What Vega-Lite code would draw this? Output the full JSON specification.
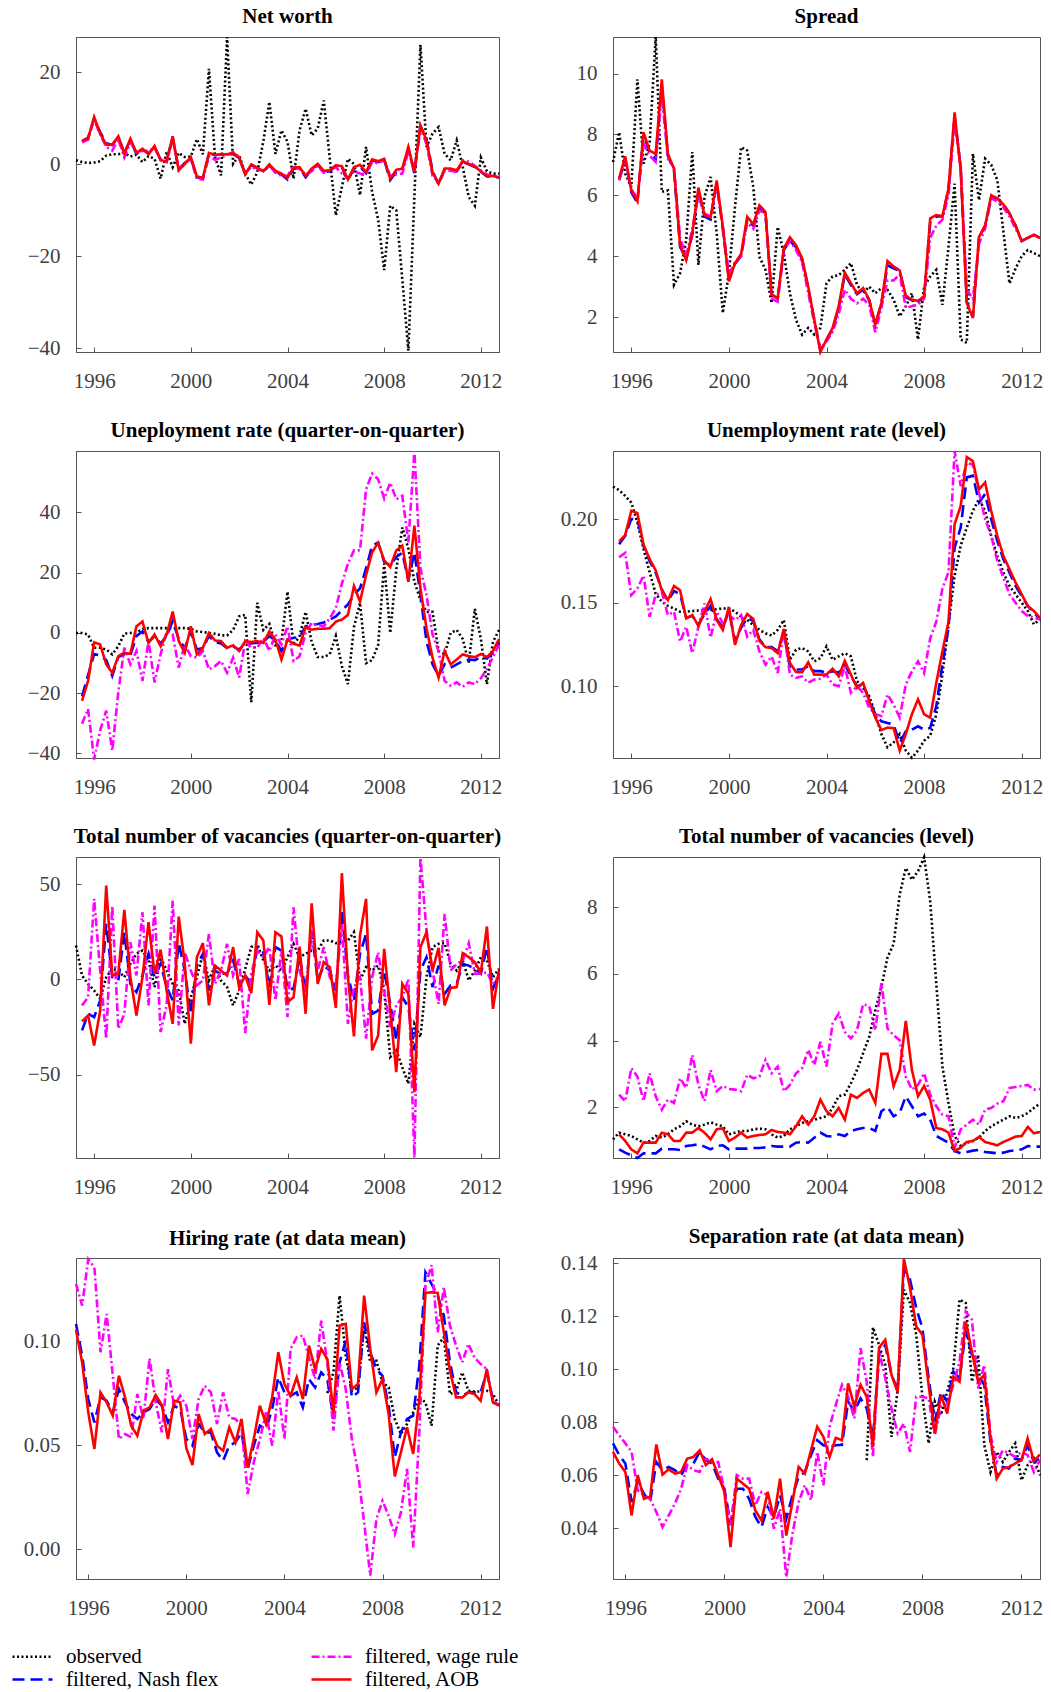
{
  "$schema": "https://vega.github.io/schema/vega-lite/v6.json",
  "background": "white",
  "padding": 5,
  "spacing": 27,
  "config": {
    "view": {"stroke": "#555555", "strokeWidth": 1},
    "axis": {
      "labelFont": "Liberation Serif", "labelFontSize": 21, "labelColor": "#404040",
      "domainColor": "#555555", "tickColor": "#555555", "grid": false, "title": null,
      "tickSize": -5, "labelFlush": false, "labelOverlap": false
    },
    "axisX": {"labelPadding": 23},
    "axisY": {"labelPadding": 21, "minExtent": 70, "maxExtent": 70},
    "title": {"font": "Liberation Serif", "fontSize": 21, "fontWeight": "bold", "color": "black", "frame": "group", "offset": 5},
    "line": {"strokeWidth": 2.6, "clip": true},
    "legend": {
      "orient": "none", "legendX": -55, "legendY": 1608, "columns": 2, "columnPadding": 87, "rowPadding": 1,
      "symbolType": "M-2,0H2", "symbolSize": 400, "symbolStrokeWidth": 3,
      "labelFont": "Liberation Serif", "labelFontSize": 21, "labelColor": "black",
      "labelOffset": 22, "labelLimit": 400, "padding": 0
    }
  },
  "datasets": {
    "p1": [
      {"t":1995.25,"o":0.9},
      {"t":1995.5,"o":0.5,"n":5.0,"w":4.8,"a":5.2},
      {"t":1995.75,"o":0.3,"n":5.8,"w":5.4,"a":5.6},
      {"t":1996,"o":0.4,"n":10.0,"w":9.8,"a":10.3},
      {"t":1996.25,"o":0.7,"n":7.0,"w":6.5,"a":6.7},
      {"t":1996.5,"o":1.9,"n":4.6,"w":3.8,"a":4.3},
      {"t":1996.75,"o":2.2,"n":4.2,"w":3.0,"a":4.3},
      {"t":1997,"o":2.2,"n":5.9,"w":5.5,"a":6.1},
      {"t":1997.25,"o":2.5,"n":2.5,"w":1.5,"a":2.3},
      {"t":1997.5,"o":1.7,"n":5.3,"w":4.8,"a":5.6},
      {"t":1997.75,"o":2.1,"n":2.3,"w":2.8,"a":2.5},
      {"t":1998,"o":0.5,"n":3.2,"w":2.9,"a":3.4},
      {"t":1998.25,"o":1.8,"n":2.4,"w":3.0,"a":2.2},
      {"t":1998.5,"o":1.2,"n":3.8,"w":3.5,"a":4.0},
      {"t":1998.75,"o":-3.1,"n":1.0,"w":1.2,"a":0.9},
      {"t":1999,"o":2.7,"n":0.9,"w":0.5,"a":0.7},
      {"t":1999.25,"o":-0.6,"n":5.8,"w":5.5,"a":6.1},
      {"t":1999.5,"o":2.5,"n":-1.1,"w":-1.0,"a":-1.3},
      {"t":1999.75,"o":1.6,"n":0.3,"w":0.3,"a":0.1},
      {"t":2000,"o":1.7,"n":1.4,"w":1.2,"a":1.6},
      {"t":2000.25,"o":5.5,"n":-2.8,"w":-3.2,"a":-2.6},
      {"t":2000.5,"o":2.2,"n":-3.0,"w":-3.3,"a":-2.9},
      {"t":2000.75,"o":20.8,"n":2.3,"w":1.8,"a":2.5},
      {"t":2001,"o":1.6,"n":2.0,"w":1.0,"a":2.1},
      {"t":2001.25,"o":-2.4,"n":2.2,"w":1.5,"a":2.1},
      {"t":2001.5,"o":27.7,"n":2.0,"w":2.0,"a":2.2},
      {"t":2001.75,"o":0.1,"n":2.3,"w":2.7,"a":2.5},
      {"t":2002,"o":2.0,"n":1.4,"w":1.2,"a":1.6},
      {"t":2002.25,"o":-2.0,"n":-2.0,"w":-2.0,"a":-2.2},
      {"t":2002.5,"o":-4.4,"n":-0.2,"w":-0.5,"a":0},
      {"t":2002.75,"o":-1.7,"n":-0.8,"w":-1.2,"a":-0.7},
      {"t":2003,"o":5,"n":-1.7,"w":-1.3,"a":-1.5},
      {"t":2003.25,"o":13.6,"n":-0.2,"w":-0.3,"a":0},
      {"t":2003.5,"o":2.3,"n":-1.6,"w":-1.8,"a":-1.4},
      {"t":2003.75,"o":7.4,"n":-2.2,"w":-2.5,"a":-2.0},
      {"t":2004,"o":4.9,"n":-3.3,"w":-2.5,"a":-2.9},
      {"t":2004.25,"o":-3.1,"n":-0.9,"w":-0.3,"a":-0.7},
      {"t":2004.5,"o":7.4,"n":-0.8,"w":-1.0,"a":-0.6},
      {"t":2004.75,"o":12.1,"n":-2.8,"w":-2.2,"a":-2.5},
      {"t":2005,"o":6.3,"n":-1.1,"w":-1.5,"a":-0.9},
      {"t":2005.25,"o":7.8,"n":0,"w":-0.3,"a":0.1},
      {"t":2005.5,"o":13.9,"n":-1.7,"w":-1.8,"a":-1.4},
      {"t":2005.75,"o":1.2,"n":-1.5,"w":-1.2,"a":-1.3},
      {"t":2006,"o":-11.1,"n":-0.3,"w":-0.6,"a":-0.2},
      {"t":2006.25,"o":-4.9,"n":-0.6,"w":-2.0,"a":-0.4},
      {"t":2006.5,"o":1.2,"n":-3.5,"w":-3.0,"a":-3.3},
      {"t":2006.75,"o":0.1,"n":-0.9,"w":-1.5,"a":-0.6},
      {"t":2007,"o":-6.7,"n":-0.4,"w":-2.0,"a":-0.1},
      {"t":2007.25,"o":3.8,"n":-1.9,"w":-2.2,"a":-1.7},
      {"t":2007.5,"o":-6,"n":0.9,"w":0.5,"a":1.1},
      {"t":2007.75,"o":-12,"n":0.5,"w":0.2,"a":0.7},
      {"t":2008,"o":-23,"n":1.0,"w":1.0,"a":1.2},
      {"t":2008.25,"o":-9,"n":-3.4,"w":-2.5,"a":-3.1},
      {"t":2008.5,"o":-10,"n":-1.6,"w":-2.2,"a":-1.2},
      {"t":2008.75,"o":-25,"n":-1.1,"w":-2.0,"a":-0.9},
      {"t":2009,"o":-40.5,"n":3.5,"w":2.8,"a":3.8},
      {"t":2009.25,"o":-7,"n":-1.9,"w":-1.2,"a":-1.7},
      {"t":2009.5,"o":26,"n":8.3,"w":7.8,"a":8.5},
      {"t":2009.75,"o":3.8,"n":5.5,"w":4.5,"a":5.2},
      {"t":2010,"o":6.7,"n":-1.4,"w":-2.5,"a":-1.7},
      {"t":2010.25,"o":8.1,"n":-4.4,"w":-3.8,"a":-4.2},
      {"t":2010.5,"o":2.3,"n":-1.1,"w":-1.5,"a":-0.9},
      {"t":2010.75,"o":0.9,"n":-1.1,"w":-1.3,"a":-0.9},
      {"t":2011,"o":5.2,"n":-1.5,"w":-1.8,"a":-1.3},
      {"t":2011.25,"o":-0.6,"n":0.5,"w":0.9,"a":0.7},
      {"t":2011.5,"o":-7.1,"n":0.0,"w":0.6,"a":0.1},
      {"t":2011.75,"o":-9,"n":-0.6,"w":-0.3,"a":-0.5},
      {"t":2012,"o":1.5,"n":-1.6,"w":-1.3,"a":-1.5},
      {"t":2012.25,"o":-1.5,"n":-2.6,"w":-2.2,"a":-2.5},
      {"t":2012.5,"o":-2,"n":-2.6,"w":-2.6,"a":-2.5},
      {"t":2012.75,"o":-2,"n":-2.9,"w":-2.6,"a":-2.8}
    ],
    "p2": [
      {"t":1995.25,"o":7.09},
      {"t":1995.5,"o":8.07,"n":6.5,"w":6.5,"a":6.55},
      {"t":1995.75,"o":6.71,"n":7.2,"w":7.1,"a":7.28},
      {"t":1996,"o":6.27,"n":6.1,"w":6.2,"a":6.16},
      {"t":1996.25,"o":9.81,"n":5.75,"w":5.9,"a":5.8},
      {"t":1996.5,"o":7.04,"n":8.0,"w":7.7,"a":8.07},
      {"t":1996.75,"o":7.69,"n":7.4,"w":7.3,"a":7.47},
      {"t":1997,"o":11.2,"n":7.2,"w":7.1,"a":7.36},
      {"t":1997.25,"o":6.11,"n":9.6,"w":9.3,"a":9.81},
      {"t":1997.5,"o":6.16,"n":7.3,"w":7.2,"a":7.36},
      {"t":1997.75,"o":3.06,"n":6.8,"w":6.9,"a":6.87},
      {"t":1998,"o":3.44,"n":4.3,"w":4.6,"a":4.36},
      {"t":1998.25,"o":4.53,"n":3.9,"w":4.0,"a":3.87},
      {"t":1998.5,"o":7.42,"n":4.7,"w":4.9,"a":4.75},
      {"t":1998.75,"o":3.71,"n":6.1,"w":6.0,"a":6.25},
      {"t":1999,"o":5.95,"n":5.3,"w":5.4,"a":5.35},
      {"t":1999.25,"o":6.6,"n":5.2,"w":5.3,"a":5.27},
      {"t":1999.5,"o":4.75,"n":6.4,"w":6.3,"a":6.49},
      {"t":1999.75,"o":2.13,"n":4.9,"w":5.0,"a":4.96},
      {"t":2000,"o":3.44,"n":3.2,"w":3.4,"a":3.17},
      {"t":2000.25,"o":5.62,"n":3.75,"w":3.8,"a":3.77},
      {"t":2000.5,"o":7.58,"n":4.0,"w":4.0,"a":4.07},
      {"t":2000.75,"o":7.47,"n":5.2,"w":5.1,"a":5.29},
      {"t":2001,"o":6.27,"n":5.0,"w":4.9,"a":5.05},
      {"t":2001.25,"o":3.98,"n":5.6,"w":5.5,"a":5.67},
      {"t":2001.5,"o":3.55,"n":5.4,"w":5.4,"a":5.45},
      {"t":2001.75,"o":2.46,"n":2.75,"w":2.6,"a":2.73},
      {"t":2002,"o":4.96,"n":2.6,"w":2.5,"a":2.62},
      {"t":2002.25,"o":4.09,"n":4.2,"w":4.2,"a":4.26},
      {"t":2002.5,"o":2.78,"n":4.5,"w":4.5,"a":4.62},
      {"t":2002.75,"o":1.91,"n":4.3,"w":4.2,"a":4.36},
      {"t":2003,"o":1.42,"n":3.9,"w":3.8,"a":3.93},
      {"t":2003.25,"o":1.64,"n":2.95,"w":2.8,"a":3.0},
      {"t":2003.5,"o":1.42,"n":1.9,"w":1.8,"a":1.91},
      {"t":2003.75,"o":1.64,"n":0.9,"w":0.95,"a":0.85},
      {"t":2004,"o":3.11,"n":1.25,"w":1.2,"a":1.26},
      {"t":2004.25,"o":3.33,"n":1.6,"w":1.5,"a":1.64},
      {"t":2004.5,"o":3.38,"n":2.3,"w":2.1,"a":2.35},
      {"t":2004.75,"o":3.55,"n":3.4,"w":2.9,"a":3.46},
      {"t":2005,"o":3.77,"n":3.05,"w":2.6,"a":3.11},
      {"t":2005.25,"o":3.06,"n":2.75,"w":2.45,"a":2.78},
      {"t":2005.5,"o":2.78,"n":2.9,"w":2.6,"a":2.95},
      {"t":2005.75,"o":3.0,"n":2.55,"w":2.4,"a":2.57},
      {"t":2006,"o":2.78,"n":1.75,"w":1.5,"a":1.75},
      {"t":2006.25,"o":2.95,"n":2.45,"w":2.3,"a":2.46},
      {"t":2006.5,"o":2.89,"n":3.7,"w":3.2,"a":3.84},
      {"t":2006.75,"o":2.57,"n":3.6,"w":3.2,"a":3.66},
      {"t":2007,"o":2.02,"n":3.5,"w":3.4,"a":3.53},
      {"t":2007.25,"o":2.35,"n":2.65,"w":2.3,"a":2.7},
      {"t":2007.5,"o":2.78,"n":2.55,"w":2.35,"a":2.57},
      {"t":2007.75,"o":1.26,"n":2.5,"w":2.4,"a":2.53},
      {"t":2008,"o":3.0,"n":2.65,"w":2.6,"a":2.68},
      {"t":2008.25,"o":3.33,"n":5.1,"w":4.6,"a":5.24},
      {"t":2008.5,"o":3.55,"n":5.3,"w":5.0,"a":5.35},
      {"t":2008.75,"o":2.4,"n":5.3,"w":5.2,"a":5.31},
      {"t":2009,"o":4.31,"n":6.2,"w":6.0,"a":6.22},
      {"t":2009.25,"o":6.38,"n":8.6,"w":8.4,"a":8.72},
      {"t":2009.5,"o":1.26,"n":6.9,"w":7.0,"a":6.82},
      {"t":2009.75,"o":1.15,"n":2.5,"w":2.9,"a":2.46},
      {"t":2010,"o":7.36,"n":2.0,"w":2.6,"a":1.97},
      {"t":2010.25,"o":5.84,"n":4.6,"w":4.4,"a":4.64},
      {"t":2010.5,"o":7.2,"n":5.0,"w":4.9,"a":5.0},
      {"t":2010.75,"o":7.0,"n":5.9,"w":5.9,"a":6.0},
      {"t":2011,"o":6.5,"n":5.9,"w":5.8,"a":5.9},
      {"t":2011.25,"o":4.8,"n":5.7,"w":5.6,"a":5.7},
      {"t":2011.5,"o":3.1,"n":5.4,"w":5.3,"a":5.4},
      {"t":2011.75,"o":3.6,"n":5.0,"w":4.9,"a":5.0},
      {"t":2012,"o":4.0,"n":4.5,"w":4.5,"a":4.5},
      {"t":2012.25,"o":4.2,"n":4.6,"w":4.6,"a":4.6},
      {"t":2012.5,"o":4.1,"n":4.7,"w":4.7,"a":4.7},
      {"t":2012.75,"o":4.0,"n":4.6,"w":4.6,"a":4.6}
    ],
    "p3": [
      {"t":1995.25,"o":0},
      {"t":1995.5,"o":0,"n":-21,"w":-30.1,"a":-22.5},
      {"t":1995.75,"o":-0.5,"n":-14,"w":-25.2,"a":-15.9},
      {"t":1996,"o":-4.9,"n":-7,"w":-42,"a":-3.1},
      {"t":1996.25,"o":-4.9,"n":-7.5,"w":-32.3,"a":-3.8},
      {"t":1996.5,"o":-5.5,"n":-9,"w":-25.8,"a":-10.4},
      {"t":1996.75,"o":-7.1,"n":-14.2,"w":-39,"a":-13.2},
      {"t":1997,"o":-4.4,"n":-8,"w":-19.7,"a":-7.7},
      {"t":1997.25,"o":-0.2,"n":-7,"w":-4.9,"a":-6.6},
      {"t":1997.5,"o":0,"n":-7.5,"w":-10.4,"a":-6.9},
      {"t":1997.75,"o":0.2,"n":-1,"w":-6.0,"a":2.2},
      {"t":1998,"o":1.3,"n":0.5,"w":-15.9,"a":3.8},
      {"t":1998.25,"o":1.6,"n":-3,"w":-2.7,"a":-3.3},
      {"t":1998.5,"o":1.6,"n":-1,"w":-16.4,"a":-0.5},
      {"t":1998.75,"o":1.6,"n":-3.5,"w":-7.1,"a":-4.4},
      {"t":1999,"o":1.6,"n":-1,"w":0.5,"a":-0.5},
      {"t":1999.25,"o":1.6,"n":4,"w":-0.5,"a":7.1},
      {"t":1999.5,"o":1.6,"n":-2,"w":-11.5,"a":-2.7},
      {"t":1999.75,"o":1.6,"n":-5,"w":-3.8,"a":-6.6},
      {"t":2000,"o":1.4,"n":0.5,"w":-7.7,"a":2.2},
      {"t":2000.25,"o":0.5,"n":-5.5,"w":-8.2,"a":-7.1},
      {"t":2000.5,"o":0.3,"n":-5,"w":-6.0,"a":-4.9},
      {"t":2000.75,"o":0,"n":-1,"w":-12.1,"a":0},
      {"t":2001,"o":-0.3,"n":-3,"w":-11.0,"a":-2.5},
      {"t":2001.25,"o":-0.8,"n":-3.5,"w":-9.3,"a":-2.7},
      {"t":2001.5,"o":-0.8,"n":-5,"w":-13.2,"a":-4.9},
      {"t":2001.75,"o":1,"n":-4.5,"w":-8.2,"a":-4.1},
      {"t":2002,"o":5.5,"n":-5.5,"w":-14.8,"a":-6.0},
      {"t":2002.25,"o":6,"n":-3.5,"w":-2.7,"a":-2.7},
      {"t":2002.5,"o":-23,"n":-3.5,"w":-4.9,"a":-3.0},
      {"t":2002.75,"o":10,"n":-3.2,"w":-4.9,"a":-2.7},
      {"t":2003,"o":1,"n":-3,"w":-1.6,"a":-3.3},
      {"t":2003.25,"o":3,"n":-1,"w":-6.0,"a":0.5},
      {"t":2003.5,"o":-4,"n":-2.5,"w":-0.5,"a":-2.2},
      {"t":2003.75,"o":-3,"n":-6,"w":-3.8,"a":-8.8},
      {"t":2004,"o":13.7,"n":-2.2,"w":2.2,"a":-2.2},
      {"t":2004.25,"o":-4,"n":-1.6,"w":-9.3,"a":-3.6},
      {"t":2004.5,"o":-1,"n":-1.4,"w":-7.7,"a":-4.2},
      {"t":2004.75,"o":7,"n":2.2,"w":0,"a":1.9},
      {"t":2005,"o":-3,"n":2.7,"w":3.3,"a":1.1},
      {"t":2005.25,"o":-8,"n":3.0,"w":2.7,"a":1.4},
      {"t":2005.5,"o":-8,"n":3.5,"w":2.2,"a":1.4},
      {"t":2005.75,"o":-7,"n":4.4,"w":4.9,"a":1.6},
      {"t":2006,"o":-1,"n":5.5,"w":8.2,"a":3.8},
      {"t":2006.25,"o":-11,"n":7.5,"w":16.4,"a":4.4},
      {"t":2006.5,"o":-17,"n":9.5,"w":23.0,"a":6.0},
      {"t":2006.75,"o":2,"n":12.6,"w":27.4,"a":15.6},
      {"t":2007,"o":10,"n":14.8,"w":27.4,"a":10.4},
      {"t":2007.25,"o":-10,"n":21.4,"w":47.7,"a":19.2},
      {"t":2007.5,"o":-9,"n":29,"w":52.9,"a":26.8},
      {"t":2007.75,"o":-4,"n":30,"w":51.0,"a":29.9},
      {"t":2008,"o":23,"n":23.6,"w":44.6,"a":24.1},
      {"t":2008.25,"o":0,"n":22.5,"w":49.9,"a":21.9},
      {"t":2008.5,"o":21,"n":25.2,"w":44.4,"a":27.4},
      {"t":2008.75,"o":35,"n":26.6,"w":45.5,"a":29.0},
      {"t":2009,"o":28,"n":17.5,"w":30.1,"a":17.0},
      {"t":2009.25,"o":17,"n":26.8,"w":60.4,"a":35.6},
      {"t":2009.5,"o":11,"n":12.6,"w":21.4,"a":14.8},
      {"t":2009.75,"o":7,"n":-2.7,"w":12.6,"a":1.6},
      {"t":2010,"o":7,"n":-10.4,"w":-0.5,"a":-8.2},
      {"t":2010.25,"o":-6,"n":-14.2,"w":-6.0,"a":-14.8},
      {"t":2010.5,"o":-7,"n":-10.4,"w":-15.9,"a":-6.0},
      {"t":2010.75,"o":0,"n":-11.5,"w":-17.5,"a":-10.4},
      {"t":2011,"o":1,"n":-10.4,"w":-16.4,"a":-8.8},
      {"t":2011.25,"o":-2,"n":-9.3,"w":-17.9,"a":-7.1},
      {"t":2011.5,"o":-10,"n":-8.8,"w":-16.4,"a":-7.7},
      {"t":2011.75,"o":8,"n":-9,"w":-17,"a":-8},
      {"t":2012,"o":-2,"n":-8,"w":-15,"a":-7},
      {"t":2012.25,"o":-17,"n":-8.5,"w":-12,"a":-8},
      {"t":2012.5,"o":-3,"n":-6.5,"w":-8,"a":-6},
      {"t":2012.75,"o":1,"n":-3,"w":-4,"a":-2}
    ],
    "p4": [
      {"t":1995.25,"o":0.2194},
      {"t":1995.5,"o":0.2174,"n":0.185,"w":0.1772,"a":0.1865},
      {"t":1995.75,"o":0.2139,"n":0.19,"w":0.1798,"a":0.1905},
      {"t":1996,"o":0.2099,"n":0.2,"w":0.1545,"a":0.205},
      {"t":1996.25,"o":0.198,"n":0.2,"w":0.1584,"a":0.2036},
      {"t":1996.5,"o":0.1822,"n":0.184,"w":0.1663,"a":0.1848},
      {"t":1996.75,"o":0.1683,"n":0.175,"w":0.1416,"a":0.1762},
      {"t":1997,"o":0.1554,"n":0.168,"w":0.1545,"a":0.1693},
      {"t":1997.25,"o":0.1505,"n":0.158,"w":0.1564,"a":0.1574},
      {"t":1997.5,"o":0.1481,"n":0.151,"w":0.1426,"a":0.1515},
      {"t":1997.75,"o":0.1465,"n":0.157,"w":0.1446,"a":0.16},
      {"t":1998,"o":0.1446,"n":0.155,"w":0.1267,"a":0.1574},
      {"t":1998.25,"o":0.1446,"n":0.141,"w":0.1356,"a":0.1406},
      {"t":1998.5,"o":0.145,"n":0.142,"w":0.1198,"a":0.1426},
      {"t":1998.75,"o":0.1453,"n":0.137,"w":0.1356,"a":0.136},
      {"t":1999,"o":0.1455,"n":0.143,"w":0.1495,"a":0.1446},
      {"t":1999.25,"o":0.1457,"n":0.148,"w":0.1291,"a":0.1521},
      {"t":1999.5,"o":0.1461,"n":0.14,"w":0.1446,"a":0.1396},
      {"t":1999.75,"o":0.1465,"n":0.135,"w":0.1376,"a":0.1337},
      {"t":2000,"o":0.1465,"n":0.145,"w":0.1426,"a":0.1475},
      {"t":2000.25,"o":0.1446,"n":0.127,"w":0.1396,"a":0.1248},
      {"t":2000.5,"o":0.1416,"n":0.135,"w":0.1426,"a":0.1366},
      {"t":2000.75,"o":0.1396,"n":0.141,"w":0.1297,"a":0.1432},
      {"t":2001,"o":0.1366,"n":0.139,"w":0.1337,"a":0.1402},
      {"t":2001.25,"o":0.1337,"n":0.128,"w":0.1208,"a":0.1271},
      {"t":2001.5,"o":0.1317,"n":0.1235,"w":0.1129,"a":0.1234},
      {"t":2001.75,"o":0.1303,"n":0.1235,"w":0.1178,"a":0.1228},
      {"t":2002,"o":0.1337,"n":0.121,"w":0.1079,"a":0.1198},
      {"t":2002.25,"o":0.1396,"n":0.132,"w":0.1337,"a":0.1343},
      {"t":2002.5,"o":0.1158,"n":0.112,"w":0.1069,"a":0.1139},
      {"t":2002.75,"o":0.1218,"n":0.11,"w":0.105,"a":0.1085},
      {"t":2003,"o":0.1228,"n":0.11,"w":0.1059,"a":0.1083},
      {"t":2003.25,"o":0.1208,"n":0.112,"w":0.102,"a":0.1143},
      {"t":2003.5,"o":0.1149,"n":0.109,"w":0.104,"a":0.1069},
      {"t":2003.75,"o":0.1168,"n":0.109,"w":0.1044,"a":0.1069},
      {"t":2004,"o":0.1238,"n":0.108,"w":0.1069,"a":0.107},
      {"t":2004.25,"o":0.1158,"n":0.109,"w":0.101,"a":0.1105},
      {"t":2004.5,"o":0.1178,"n":0.108,"w":0.1,"a":0.1059},
      {"t":2004.75,"o":0.1198,"n":0.113,"w":0.1119,"a":0.1152},
      {"t":2005,"o":0.1178,"n":0.106,"w":0.096,"a":0.1069},
      {"t":2005.25,"o":0.103,"n":0.1,"w":0.1,"a":0.099},
      {"t":2005.5,"o":0.099,"n":0.101,"w":0.096,"a":0.102},
      {"t":2005.75,"o":0.094,"n":0.092,"w":0.0871,"a":0.0911},
      {"t":2006,"o":0.0832,"n":0.083,"w":0.0832,"a":0.0812},
      {"t":2006.25,"o":0.0713,"n":0.079,"w":0.0822,"a":0.0737},
      {"t":2006.5,"o":0.0634,"n":0.078,"w":0.095,"a":0.0752},
      {"t":2006.75,"o":0.0663,"n":0.077,"w":0.0889,"a":0.0749},
      {"t":2007,"o":0.0713,"n":0.066,"w":0.0812,"a":0.0614},
      {"t":2007.25,"o":0.0614,"n":0.073,"w":0.101,"a":0.0713},
      {"t":2007.5,"o":0.0572,"n":0.074,"w":0.1089,"a":0.0832},
      {"t":2007.75,"o":0.0614,"n":0.076,"w":0.1149,"a":0.0921},
      {"t":2008,"o":0.0673,"n":0.074,"w":0.1079,"a":0.0832},
      {"t":2008.25,"o":0.0703,"n":0.075,"w":0.1287,"a":0.0812},
      {"t":2008.5,"o":0.0832,"n":0.088,"w":0.1386,"a":0.102},
      {"t":2008.75,"o":0.1069,"n":0.113,"w":0.1584,"a":0.1208},
      {"t":2009,"o":0.1366,"n":0.135,"w":0.1683,"a":0.1386},
      {"t":2009.25,"o":0.1663,"n":0.183,"w":0.2408,"a":0.197},
      {"t":2009.5,"o":0.1842,"n":0.195,"w":0.2198,"a":0.2079},
      {"t":2009.75,"o":0.195,"n":0.225,"w":0.2337,"a":0.2372},
      {"t":2010,"o":0.205,"n":0.226,"w":0.2327,"a":0.2347},
      {"t":2010.25,"o":0.212,"n":0.21,"w":0.2158,"a":0.2178},
      {"t":2010.5,"o":0.205,"n":0.215,"w":0.2,"a":0.222},
      {"t":2010.75,"o":0.19,"n":0.2,"w":0.19,"a":0.205},
      {"t":2011,"o":0.178,"n":0.187,"w":0.175,"a":0.19},
      {"t":2011.25,"o":0.168,"n":0.176,"w":0.165,"a":0.178},
      {"t":2011.5,"o":0.16,"n":0.168,"w":0.155,"a":0.17},
      {"t":2011.75,"o":0.155,"n":0.16,"w":0.15,"a":0.162},
      {"t":2012,"o":0.15,"n":0.154,"w":0.145,"a":0.155},
      {"t":2012.25,"o":0.145,"n":0.148,"w":0.142,"a":0.148},
      {"t":2012.5,"o":0.137,"n":0.144,"w":0.141,"a":0.145},
      {"t":2012.75,"o":0.14,"n":0.14,"w":0.14,"a":0.141}
    ],
    "p5": [
      {"t":1995.25,"o":17.8},
      {"t":1995.5,"o":2.1,"n":-26.7,"w":-13.6,"a":-22},
      {"t":1995.75,"o":-2.3,"n":-18,"w":-9.3,"a":-18.9},
      {"t":1996,"o":-5.8,"n":-19.8,"w":42.3,"a":-34.6},
      {"t":1996.25,"o":-10.1,"n":-11,"w":4.7,"a":-16.3},
      {"t":1996.5,"o":1.2,"n":29.2,"w":-31.1,"a":49.3},
      {"t":1996.75,"o":5.6,"n":1.2,"w":38.8,"a":2.1},
      {"t":1997,"o":4.7,"n":-0.5,"w":-25.9,"a":3.0},
      {"t":1997.25,"o":1.2,"n":24.8,"w":-18,"a":36.5},
      {"t":1997.5,"o":8.2,"n":-2.3,"w":19.6,"a":1.2},
      {"t":1997.75,"o":13.5,"n":-6.6,"w":2.1,"a":-18.9},
      {"t":1998,"o":15.2,"n":2.1,"w":35.3,"a":1.2},
      {"t":1998.25,"o":10,"n":13.5,"w":-13.6,"a":30.1},
      {"t":1998.5,"o":-4,"n":1.2,"w":38.8,"a":3.0},
      {"t":1998.75,"o":11.7,"n":8.2,"w":-27.6,"a":15.6},
      {"t":1999,"o":4.7,"n":-4.0,"w":-13.6,"a":-5.8},
      {"t":1999.25,"o":-2.3,"n":-11,"w":41.4,"a":-23.3},
      {"t":1999.5,"o":-5.8,"n":19.1,"w":-24.1,"a":33.0},
      {"t":1999.75,"o":-23.3,"n":4.7,"w":14.3,"a":8.2},
      {"t":2000,"o":-9.3,"n":-18,"w":4.7,"a":-33.7},
      {"t":2000.25,"o":1.2,"n":7.3,"w":-3.1,"a":11.7},
      {"t":2000.5,"o":13.5,"n":13.5,"w":-0.5,"a":19.1},
      {"t":2000.75,"o":-0.5,"n":-5.8,"w":24,"a":-13.6},
      {"t":2001,"o":7.3,"n":4.7,"w":-2.3,"a":7.3},
      {"t":2001.25,"o":-0.5,"n":3.0,"w":4.7,"a":4.7},
      {"t":2001.5,"o":-4,"n":3.0,"w":18.7,"a":2.1},
      {"t":2001.75,"o":-13.6,"n":10,"w":2.1,"a":17.0},
      {"t":2002,"o":-5.8,"n":-2.3,"w":10.8,"a":-4.4},
      {"t":2002.25,"o":5.6,"n":2.1,"w":-28.1,"a":2.1},
      {"t":2002.5,"o":17,"n":-2.3,"w":3,"a":-7.2},
      {"t":2002.75,"o":18.7,"n":17,"w":15.2,"a":24.8},
      {"t":2003,"o":10,"n":14.3,"w":11.7,"a":20.5},
      {"t":2003.25,"o":4.7,"n":-4,"w":17,"a":-13.3},
      {"t":2003.5,"o":7.3,"n":17,"w":-11,"a":24.8},
      {"t":2003.75,"o":4.7,"n":15.2,"w":15.2,"a":22.6},
      {"t":2004,"o":11.7,"n":-4.9,"w":-19.8,"a":-11.9},
      {"t":2004.25,"o":18.7,"n":-4.9,"w":37.9,"a":-9.3},
      {"t":2004.5,"o":11.7,"n":11.7,"w":4.7,"a":17.3},
      {"t":2004.75,"o":13.5,"n":-5.8,"w":-6.6,"a":-18.0},
      {"t":2005,"o":15.2,"n":25.7,"w":25.7,"a":40.0},
      {"t":2005.25,"o":15.2,"n":-0.5,"w":4.7,"a":-2.3},
      {"t":2005.5,"o":20.5,"n":7.3,"w":17,"a":9.1},
      {"t":2005.75,"o":20.5,"n":4.7,"w":1.2,"a":6.5},
      {"t":2006,"o":19.1,"n":-5.8,"w":-4,"a":-14.9},
      {"t":2006.25,"o":19.6,"n":36.2,"w":29.2,"a":55.8},
      {"t":2006.5,"o":20.5,"n":2.1,"w":-23.3,"a":1.2},
      {"t":2006.75,"o":24.8,"n":-11,"w":-4,"a":-29.9},
      {"t":2007,"o":-0.5,"n":13.5,"w":1.2,"a":23.1},
      {"t":2007.25,"o":6.5,"n":24,"w":-31.1,"a":42.3},
      {"t":2007.5,"o":4.7,"n":-18,"w":1.2,"a":-37.2},
      {"t":2007.75,"o":7.3,"n":-16.3,"w":14.3,"a":-29.4},
      {"t":2008,"o":-5.8,"n":4.7,"w":-5.8,"a":16.1},
      {"t":2008.25,"o":-40.7,"n":-12.8,"w":-25,"a":-16.3},
      {"t":2008.5,"o":-37.2,"n":-32,"w":-13.6,"a":-48.6},
      {"t":2008.75,"o":-46.1,"n":-9.3,"w":-9.3,"a":-2.3},
      {"t":2009,"o":-54.7,"n":-14.5,"w":0.3,"a":-7.5},
      {"t":2009.25,"o":-23.3,"n":-37.2,"w":-93.5,"a":-59.1},
      {"t":2009.5,"o":-30.2,"n":4.7,"w":64,"a":17.0},
      {"t":2009.75,"o":1.2,"n":11.7,"w":25.7,"a":24.8},
      {"t":2010,"o":17,"n":-4,"w":4.7,"a":4.7},
      {"t":2010.25,"o":18.7,"n":7.3,"w":-12.8,"a":16.6},
      {"t":2010.5,"o":19.1,"n":-7.5,"w":34.4,"a":-13.6},
      {"t":2010.75,"o":8.2,"n":-3.1,"w":4.7,"a":-4.4},
      {"t":2011,"o":4.7,"n":-2.3,"w":8.2,"a":-4.0},
      {"t":2011.25,"o":10,"n":8.2,"w":10,"a":13.8},
      {"t":2011.5,"o":-0.5,"n":7.3,"w":19.1,"a":11.7},
      {"t":2011.75,"o":4.7,"n":5.6,"w":3.0,"a":9.1},
      {"t":2012,"o":11.7,"n":3.0,"w":3.0,"a":3.8},
      {"t":2012.25,"o":10,"n":17,"w":3.8,"a":27.8},
      {"t":2012.5,"o":1.2,"n":-4.9,"w":-2.3,"a":-15.4},
      {"t":2012.75,"o":5.6,"n":3,"w":2.1,"a":5.1}
    ],
    "p6": [
      {"t":1995.25,"o":1.04},
      {"t":1995.5,"o":1.24,"n":0.74,"w":2.38,"a":1.19},
      {"t":1995.75,"o":1.19,"n":0.64,"w":2.18,"a":0.99},
      {"t":1996,"o":1.14,"n":0.56,"w":3.17,"a":0.74},
      {"t":1996.25,"o":1.04,"n":0.48,"w":2.92,"a":0.62},
      {"t":1996.5,"o":0.94,"n":0.62,"w":2.18,"a":0.94},
      {"t":1996.75,"o":0.99,"n":0.62,"w":3.02,"a":0.94},
      {"t":1997,"o":1.14,"n":0.62,"w":2.33,"a":0.94},
      {"t":1997.25,"o":1.09,"n":0.76,"w":1.93,"a":1.24},
      {"t":1997.5,"o":1.19,"n":0.74,"w":2.23,"a":1.19},
      {"t":1997.75,"o":1.34,"n":0.74,"w":2.13,"a":0.99},
      {"t":1998,"o":1.43,"n":0.72,"w":2.87,"a":0.99},
      {"t":1998.25,"o":1.58,"n":0.84,"w":2.58,"a":1.24},
      {"t":1998.5,"o":1.48,"n":0.86,"w":3.57,"a":1.24},
      {"t":1998.75,"o":1.43,"n":0.89,"w":2.67,"a":1.38},
      {"t":1999,"o":1.48,"n":0.82,"w":2.18,"a":1.24},
      {"t":1999.25,"o":1.55,"n":0.74,"w":3.12,"a":1.04},
      {"t":1999.5,"o":1.48,"n":0.84,"w":2.48,"a":1.34},
      {"t":1999.75,"o":1.43,"n":0.86,"w":2.64,"a":1.37},
      {"t":2000,"o":1.19,"n":0.74,"w":2.55,"a":0.99},
      {"t":2000.25,"o":1.24,"n":0.76,"w":2.53,"a":1.09},
      {"t":2000.5,"o":1.29,"n":0.76,"w":2.48,"a":1.24},
      {"t":2000.75,"o":1.29,"n":0.76,"w":2.97,"a":1.09},
      {"t":2001,"o":1.34,"n":0.78,"w":2.87,"a":1.14},
      {"t":2001.25,"o":1.36,"n":0.78,"w":2.92,"a":1.17},
      {"t":2001.5,"o":1.34,"n":0.8,"w":3.42,"a":1.19},
      {"t":2001.75,"o":1.19,"n":0.84,"w":3.02,"a":1.32},
      {"t":2002,"o":1.09,"n":0.82,"w":3.22,"a":1.26},
      {"t":2002.25,"o":1.14,"n":0.82,"w":2.48,"a":1.24},
      {"t":2002.5,"o":1.34,"n":0.82,"w":2.67,"a":1.19},
      {"t":2002.75,"o":1.43,"n":0.94,"w":3.02,"a":1.43},
      {"t":2003,"o":1.53,"n":0.96,"w":3.17,"a":1.73},
      {"t":2003.25,"o":1.58,"n":0.94,"w":3.72,"a":1.48},
      {"t":2003.5,"o":1.63,"n":1.09,"w":3.27,"a":1.73},
      {"t":2003.75,"o":1.68,"n":1.24,"w":3.96,"a":2.23},
      {"t":2004,"o":1.73,"n":1.14,"w":3.22,"a":1.88},
      {"t":2004.25,"o":1.98,"n":1.12,"w":4.51,"a":1.73},
      {"t":2004.5,"o":2.33,"n":1.19,"w":4.81,"a":1.98},
      {"t":2004.75,"o":2.38,"n":1.14,"w":4.26,"a":1.63},
      {"t":2005,"o":2.72,"n":1.29,"w":4.06,"a":2.38},
      {"t":2005.25,"o":3.12,"n":1.34,"w":4.31,"a":2.28},
      {"t":2005.5,"o":3.62,"n":1.38,"w":5.09,"a":2.43},
      {"t":2005.75,"o":4.11,"n":1.38,"w":5.03,"a":2.53},
      {"t":2006,"o":4.91,"n":1.29,"w":4.31,"a":2.13},
      {"t":2006.25,"o":5.6,"n":1.88,"w":5.72,"a":3.6},
      {"t":2006.5,"o":6.49,"n":2.01,"w":4.36,"a":3.6},
      {"t":2006.75,"o":6.89,"n":1.73,"w":4.16,"a":2.63},
      {"t":2007,"o":8.38,"n":1.83,"w":4.01,"a":3.12},
      {"t":2007.25,"o":9.17,"n":2.33,"w":2.92,"a":4.59},
      {"t":2007.5,"o":8.82,"n":2.03,"w":2.53,"a":3.12},
      {"t":2007.75,"o":9.07,"n":1.73,"w":2.67,"a":2.33},
      {"t":2008,"o":9.49,"n":1.81,"w":3.02,"a":2.64},
      {"t":2008.25,"o":8.18,"n":1.63,"w":2.38,"a":2.23},
      {"t":2008.5,"o":5.7,"n":1.14,"w":2.03,"a":1.38},
      {"t":2008.75,"o":3.22,"n":1.04,"w":1.78,"a":1.34},
      {"t":2009,"o":2.13,"n":0.94,"w":1.73,"a":1.24},
      {"t":2009.25,"o":1.14,"n":0.69,"w":0.79,"a":0.69},
      {"t":2009.5,"o":0.84,"n":0.62,"w":1.34,"a":0.79},
      {"t":2009.75,"o":0.94,"n":0.66,"w":1.48,"a":0.96},
      {"t":2010,"o":0.99,"n":0.7,"w":1.63,"a":0.99},
      {"t":2010.25,"o":1.09,"n":0.72,"w":1.48,"a":1.11},
      {"t":2010.5,"o":1.29,"n":0.66,"w":1.93,"a":0.96},
      {"t":2010.75,"o":1.43,"n":0.64,"w":1.98,"a":0.91},
      {"t":2011,"o":1.53,"n":0.62,"w":2.11,"a":0.86},
      {"t":2011.25,"o":1.63,"n":0.64,"w":2.18,"a":0.96},
      {"t":2011.5,"o":1.73,"n":0.69,"w":2.58,"a":1.04},
      {"t":2011.75,"o":1.68,"n":0.71,"w":2.61,"a":1.12},
      {"t":2012,"o":1.73,"n":0.74,"w":2.64,"a":1.14},
      {"t":2012.25,"o":1.83,"n":0.84,"w":2.67,"a":1.41},
      {"t":2012.5,"o":1.98,"n":0.82,"w":2.53,"a":1.22},
      {"t":2012.75,"o":2.11,"n":0.82,"w":2.55,"a":1.26}
    ],
    "p7": [
      {"t":1995.5,"n":0.1082,"w":0.1274,"a":0.1054},
      {"t":1995.75,"n":0.093,"w":0.117,"a":0.0897},
      {"t":1996,"n":0.0721,"w":0.1394,"a":0.0657},
      {"t":1996.25,"n":0.0609,"w":0.1354,"a":0.0481},
      {"t":1996.5,"n":0.0729,"w":0.0946,"a":0.0753},
      {"t":1996.75,"n":0.0713,"w":0.113,"a":0.0705},
      {"t":1997,"n":0.0657,"w":0.0833,"a":0.0641},
      {"t":1997.25,"n":0.0769,"w":0.0529,"a":0.0833},
      {"t":1997.5,"n":0.0705,"w":0.0553,"a":0.0729},
      {"t":1997.75,"n":0.0649,"w":0.0537,"a":0.0593},
      {"t":1998,"n":0.0625,"w":0.0745,"a":0.0545},
      {"t":1998.25,"n":0.0657,"w":0.0625,"a":0.0665},
      {"t":1998.5,"n":0.0673,"w":0.0917,"a":0.0681},
      {"t":1998.75,"n":0.0721,"w":0.0705,"a":0.074},
      {"t":1999,"n":0.0689,"w":0.0561,"a":0.0692},
      {"t":1999.25,"n":0.0609,"w":0.0865,"a":0.0529},
      {"t":1999.5,"n":0.0689,"w":0.0689,"a":0.0713},
      {"t":1999.75,"n":0.0673,"w":0.0737,"a":0.0705},
      {"t":2000,"n":0.0529,"w":0.0689,"a":0.0484},
      {"t":2000.25,"n":0.0497,"w":0.0529,"a":0.0404},
      {"t":2000.5,"n":0.0601,"w":0.0721,"a":0.0649},
      {"t":2000.75,"n":0.0561,"w":0.0785,"a":0.0553},
      {"t":2001,"n":0.0561,"w":0.0753,"a":0.0577},
      {"t":2001.25,"n":0.0465,"w":0.0601,"a":0.0497},
      {"t":2001.5,"n":0.0425,"w":0.0753,"a":0.0473},
      {"t":2001.75,"n":0.0497,"w":0.0633,"a":0.0585},
      {"t":2002,"n":0.0513,"w":0.0625,"a":0.0513},
      {"t":2002.25,"n":0.0561,"w":0.0593,"a":0.0625},
      {"t":2002.5,"n":0.0385,"w":0.0264,"a":0.0393},
      {"t":2002.75,"n":0.0497,"w":0.0417,"a":0.0529},
      {"t":2003,"n":0.0593,"w":0.0529,"a":0.0689},
      {"t":2003.25,"n":0.0577,"w":0.0657,"a":0.0601},
      {"t":2003.5,"n":0.0673,"w":0.0497,"a":0.0729},
      {"t":2003.75,"n":0.0825,"w":0.0761,"a":0.0946},
      {"t":2004,"n":0.0753,"w":0.0529,"a":0.0793},
      {"t":2004.25,"n":0.0737,"w":0.0962,"a":0.0737},
      {"t":2004.5,"n":0.0753,"w":0.1018,"a":0.0825},
      {"t":2004.75,"n":0.0681,"w":0.1026,"a":0.0721},
      {"t":2005,"n":0.0817,"w":0.0921,"a":0.0978},
      {"t":2005.25,"n":0.0777,"w":0.0817,"a":0.0865},
      {"t":2005.5,"n":0.0849,"w":0.1098,"a":0.0962},
      {"t":2005.75,"o":0.075,"n":0.0817,"w":0.0897,"a":0.0913},
      {"t":2006,"o":0.085,"n":0.0625,"w":0.0569,"a":0.0657},
      {"t":2006.25,"o":0.1218,"n":0.0897,"w":0.0897,"a":0.1074},
      {"t":2006.5,"o":0.093,"n":0.1002,"w":0.0769,"a":0.1082},
      {"t":2006.75,"o":0.0761,"n":0.0729,"w":0.0529,"a":0.0769},
      {"t":2007,"o":0.0777,"n":0.0753,"w":0.0369,"a":0.0793},
      {"t":2007.25,"o":0.1074,"n":0.109,"w":0.0128,"a":0.1218},
      {"t":2007.5,"o":0.0897,"n":0.0946,"w":-0.0128,"a":0.0962},
      {"t":2007.75,"o":0.0905,"n":0.0865,"w":0.0144,"a":0.0753},
      {"t":2008,"o":0.0801,"n":0.0833,"w":0.0232,"a":0.0817},
      {"t":2008.25,"o":0.0777,"n":0.0689,"w":0.016,"a":0.0649},
      {"t":2008.5,"o":0.0625,"n":0.0441,"w":0.0072,"a":0.0349},
      {"t":2008.75,"o":0.0553,"n":0.0561,"w":0.0176,"a":0.0465},
      {"t":2009,"o":0.0601,"n":0.0625,"w":0.0385,"a":0.0585},
      {"t":2009.25,"o":0.0657,"n":0.0641,"w":0.0008,"a":0.0457},
      {"t":2009.5,"o":0.0729,"n":0.0881,"w":0.0561,"a":0.0721},
      {"t":2009.75,"o":0.0705,"n":0.133,"w":0.1266,"a":0.1231},
      {"t":2010,"o":0.0593,"n":0.1274,"w":0.1365,"a":0.1234},
      {"t":2010.25,"o":0.0978,"n":0.1218,"w":0.1042,"a":0.1231},
      {"t":2010.5,"o":0.1018,"n":0.1122,"w":0.1258,"a":0.1042},
      {"t":2010.75,"o":0.0745,"n":0.0897,"w":0.1074,"a":0.0857},
      {"t":2011,"o":0.076,"n":0.0753,"w":0.0978,"a":0.0729},
      {"t":2011.25,"o":0.0849,"n":0.0737,"w":0.0897,"a":0.0729},
      {"t":2011.5,"o":0.0761,"n":0.0753,"w":0.0986,"a":0.0753},
      {"t":2011.75,"o":0.0757,"n":0.0753,"w":0.0921,"a":0.0745},
      {"t":2012,"o":0.0757,"n":0.0753,"w":0.0889,"a":0.0713},
      {"t":2012.25,"o":0.0761,"n":0.0849,"w":0.0865,"a":0.0865},
      {"t":2012.5,"o":0.0745,"n":0.0721,"w":0.0713,"a":0.0705},
      {"t":2012.75,"o":0.0692,"n":0.0705,"w":0.0692,"a":0.0689}
    ],
    "p8": [
      {"t":1995.5,"n":0.072,"w":0.0783,"a":0.0688},
      {"t":1995.75,"n":0.0676,"w":0.0751,"a":0.0644},
      {"t":1996,"n":0.0644,"w":0.072,"a":0.0612},
      {"t":1996.25,"n":0.0499,"w":0.0688,"a":0.0448},
      {"t":1996.5,"n":0.0574,"w":0.0543,"a":0.06},
      {"t":1996.75,"n":0.053,"w":0.0524,"a":0.0511},
      {"t":1997,"n":0.0499,"w":0.0511,"a":0.0518},
      {"t":1997.25,"n":0.065,"w":0.0461,"a":0.0716},
      {"t":1997.5,"n":0.0619,"w":0.0404,"a":0.0602},
      {"t":1997.75,"n":0.0631,"w":0.0448,"a":0.0622},
      {"t":1998,"n":0.0619,"w":0.0492,"a":0.0606},
      {"t":1998.25,"n":0.06,"w":0.0549,"a":0.0612},
      {"t":1998.5,"n":0.0638,"w":0.0638,"a":0.0663},
      {"t":1998.75,"n":0.0644,"w":0.0619,"a":0.0669},
      {"t":1999,"n":0.0688,"w":0.0612,"a":0.0694},
      {"t":1999.25,"n":0.0657,"w":0.0663,"a":0.0638},
      {"t":1999.5,"n":0.0644,"w":0.065,"a":0.066},
      {"t":1999.75,"n":0.0587,"w":0.065,"a":0.06},
      {"t":2000,"n":0.0549,"w":0.0543,"a":0.0537},
      {"t":2000.25,"n":0.0417,"w":0.041,"a":0.0328},
      {"t":2000.5,"n":0.0549,"w":0.06,"a":0.0587},
      {"t":2000.75,"n":0.0549,"w":0.0587,"a":0.0568},
      {"t":2001,"n":0.0511,"w":0.0587,"a":0.0549},
      {"t":2001.25,"n":0.0442,"w":0.0486,"a":0.0467},
      {"t":2001.5,"n":0.0404,"w":0.0537,"a":0.0429},
      {"t":2001.75,"n":0.048,"w":0.0524,"a":0.0537},
      {"t":2002,"n":0.0442,"w":0.0398,"a":0.0436},
      {"t":2002.25,"n":0.0524,"w":0.0473,"a":0.0587},
      {"t":2002.5,"n":0.0436,"w":0.0215,"a":0.0372},
      {"t":2002.75,"n":0.0524,"w":0.0379,"a":0.0499},
      {"t":2003,"n":0.0593,"w":0.0499,"a":0.0631},
      {"t":2003.25,"n":0.0612,"w":0.0562,"a":0.0606},
      {"t":2003.5,"n":0.0676,"w":0.0505,"a":0.0694},
      {"t":2003.75,"n":0.0732,"w":0.0688,"a":0.0783},
      {"t":2004,"n":0.0713,"w":0.0562,"a":0.0745},
      {"t":2004.25,"n":0.0707,"w":0.0783,"a":0.0669},
      {"t":2004.5,"n":0.0713,"w":0.0865,"a":0.0741},
      {"t":2004.75,"n":0.0715,"w":0.0941,"a":0.0732},
      {"t":2005,"n":0.0878,"w":0.0896,"a":0.0947},
      {"t":2005.25,"n":0.084,"w":0.0814,"a":0.0859},
      {"t":2005.5,"n":0.089,"w":0.108,"a":0.0941},
      {"t":2005.75,"o":0.0657,"n":0.0852,"w":0.0953,"a":0.0896},
      {"t":2006,"o":0.1158,"n":0.0739,"w":0.0669,"a":0.0707},
      {"t":2006.25,"o":0.1092,"n":0.1054,"w":0.1067,"a":0.1082},
      {"t":2006.5,"o":0.1016,"n":0.1092,"w":0.0966,"a":0.1111},
      {"t":2006.75,"o":0.0745,"n":0.0979,"w":0.0852,"a":0.0979},
      {"t":2007,"o":0.092,"n":0.0922,"w":0.0758,"a":0.0913},
      {"t":2007.25,"o":0.13,"n":0.1376,"w":0.0795,"a":0.1417},
      {"t":2007.5,"o":0.125,"n":0.1338,"w":0.0688,"a":0.1307},
      {"t":2007.75,"o":0.113,"n":0.1231,"w":0.0896,"a":0.1162},
      {"t":2008,"o":0.0896,"n":0.1155,"w":0.0896,"a":0.113},
      {"t":2008.25,"o":0.072,"n":0.0966,"w":0.089,"a":0.0941},
      {"t":2008.5,"o":0.0878,"n":0.0802,"w":0.0751,"a":0.0758},
      {"t":2008.75,"o":0.0827,"n":0.0915,"w":0.0859,"a":0.0903},
      {"t":2009,"o":0.0915,"n":0.0878,"w":0.0865,"a":0.0833},
      {"t":2009.25,"o":0.1004,"n":0.0991,"w":0.0941,"a":0.0972},
      {"t":2009.5,"o":0.1263,"n":0.0966,"w":0.1029,"a":0.0953},
      {"t":2009.75,"o":0.125,"n":0.1143,"w":0.1218,"a":0.1181},
      {"t":2010,"o":0.0953,"n":0.1054,"w":0.1187,"a":0.1067},
      {"t":2010.25,"o":0.1054,"n":0.0979,"w":0.0928,"a":0.0953},
      {"t":2010.5,"o":0.0713,"n":0.0941,"w":0.1016,"a":0.0979},
      {"t":2010.75,"o":0.0612,"n":0.0726,"w":0.0751,"a":0.0739},
      {"t":2011,"o":0.0688,"n":0.06,"w":0.065,"a":0.0587},
      {"t":2011.25,"o":0.065,"n":0.0631,"w":0.0694,"a":0.0625},
      {"t":2011.5,"o":0.0688,"n":0.0625,"w":0.0682,"a":0.0631},
      {"t":2011.75,"o":0.072,"n":0.0663,"w":0.0669,"a":0.0644},
      {"t":2012,"o":0.0581,"n":0.0657,"w":0.0688,"a":0.0657},
      {"t":2012.25,"o":0.0638,"n":0.0713,"w":0.0676,"a":0.0739},
      {"t":2012.5,"o":0.0663,"n":0.065,"w":0.0612,"a":0.0653},
      {"t":2012.75,"o":0.06,"n":0.0663,"w":0.0657,"a":0.0678}
    ]
  },
  "vconcat": [
    {
      "spacing": 37,
      "hconcat": [
        {
          "title": "Net worth", "width": 423, "height": 315,
          "data": {"name": "p1"},
          "transform": [{"fold": ["o", "n", "w", "a"], "as": ["s", "v"]}],
          "mark": "line",
          "encoding": {
            "x": {"field": "t", "type": "quantitative", "scale": {"domain": [1995.25, 2012.75], "nice": false, "zero": false}, "axis": {"values": [1996, 2000, 2004, 2008, 2012], "format": "d"}},
            "y": {"field": "v", "type": "quantitative", "scale": {"domain": [-40.8, 27.7], "nice": false, "zero": false}, "axis": {"values": [-40, -20, 0, 20], "format": "d"}},
            "color": {"field": "s", "type": "nominal", "scale": {"domain": ["o", "n", "w", "a"], "range": ["#000000", "#0000ff", "#ff00ff", "#ff0000"]}, "legend": {"title": null, "labelExpr": "({'o': 'observed', 'n': 'filtered, Nash flex', 'w': 'filtered, wage rule', 'a': 'filtered, AOB'})[datum.label]"}},
            "strokeDash": {"field": "s", "type": "nominal", "scale": {"domain": ["o", "n", "w", "a"], "range": [[2, 2.5], [12, 6], [8, 3, 2, 3], [1, 0]]}, "legend": {"title": null, "labelExpr": "({'o': 'observed', 'n': 'filtered, Nash flex', 'w': 'filtered, wage rule', 'a': 'filtered, AOB'})[datum.label]"}}
          }
        },
        {
          "title": "Spread", "width": 427, "height": 315,
          "data": {"name": "p2"},
          "transform": [{"fold": ["o", "n", "w", "a"], "as": ["s", "v"]}],
          "mark": "line",
          "encoding": {
            "x": {"field": "t", "type": "quantitative", "scale": {"domain": [1995.25, 2012.75], "nice": false, "zero": false}, "axis": {"values": [1996, 2000, 2004, 2008, 2012], "format": "d"}},
            "y": {"field": "v", "type": "quantitative", "scale": {"domain": [0.85, 11.2], "nice": false, "zero": false}, "axis": {"values": [2, 4, 6, 8, 10], "format": "d"}},
            "color": {"field": "s", "type": "nominal", "scale": {"domain": ["o", "n", "w", "a"], "range": ["#000000", "#0000ff", "#ff00ff", "#ff0000"]}},
            "strokeDash": {"field": "s", "type": "nominal", "scale": {"domain": ["o", "n", "w", "a"], "range": [[2, 2.5], [12, 6], [8, 3, 2, 3], [1, 0]]}}
          }
        }
      ]
    },
    {
      "spacing": 37,
      "hconcat": [
        {
          "title": "Uneployment rate (quarter-on-quarter)", "width": 423, "height": 307,
          "data": {"name": "p3"},
          "transform": [{"fold": ["o", "n", "w", "a"], "as": ["s", "v"]}],
          "mark": "line",
          "encoding": {
            "x": {"field": "t", "type": "quantitative", "scale": {"domain": [1995.25, 2012.75], "nice": false, "zero": false}, "axis": {"values": [1996, 2000, 2004, 2008, 2012], "format": "d"}},
            "y": {"field": "v", "type": "quantitative", "scale": {"domain": [-41.5, 60.4], "nice": false, "zero": false}, "axis": {"values": [-40, -20, 0, 20, 40], "format": "d"}},
            "color": {"field": "s", "type": "nominal", "scale": {"domain": ["o", "n", "w", "a"], "range": ["#000000", "#0000ff", "#ff00ff", "#ff0000"]}},
            "strokeDash": {"field": "s", "type": "nominal", "scale": {"domain": ["o", "n", "w", "a"], "range": [[2, 2.5], [12, 6], [8, 3, 2, 3], [1, 0]]}}
          }
        },
        {
          "title": "Unemployment rate (level)", "width": 427, "height": 307,
          "data": {"name": "p4"},
          "transform": [{"fold": ["o", "n", "w", "a"], "as": ["s", "v"]}],
          "mark": "line",
          "encoding": {
            "x": {"field": "t", "type": "quantitative", "scale": {"domain": [1995.25, 2012.75], "nice": false, "zero": false}, "axis": {"values": [1996, 2000, 2004, 2008, 2012], "format": "d"}},
            "y": {"field": "v", "type": "quantitative", "scale": {"domain": [0.057, 0.2408], "nice": false, "zero": false}, "axis": {"values": [0.1, 0.15, 0.2], "format": ".2f"}},
            "color": {"field": "s", "type": "nominal", "scale": {"domain": ["o", "n", "w", "a"], "range": ["#000000", "#0000ff", "#ff00ff", "#ff0000"]}},
            "strokeDash": {"field": "s", "type": "nominal", "scale": {"domain": ["o", "n", "w", "a"], "range": [[2, 2.5], [12, 6], [8, 3, 2, 3], [1, 0]]}}
          }
        }
      ]
    },
    {
      "spacing": 37,
      "hconcat": [
        {
          "title": "Total number of vacancies (quarter-on-quarter)", "width": 423, "height": 301,
          "data": {"name": "p5"},
          "transform": [{"fold": ["o", "n", "w", "a"], "as": ["s", "v"]}],
          "mark": "line",
          "encoding": {
            "x": {"field": "t", "type": "quantitative", "scale": {"domain": [1995.25, 2012.75], "nice": false, "zero": false}, "axis": {"values": [1996, 2000, 2004, 2008, 2012], "format": "d"}},
            "y": {"field": "v", "type": "quantitative", "scale": {"domain": [-93.7, 64.3], "nice": false, "zero": false}, "axis": {"values": [-50, 0, 50], "format": "d"}},
            "color": {"field": "s", "type": "nominal", "scale": {"domain": ["o", "n", "w", "a"], "range": ["#000000", "#0000ff", "#ff00ff", "#ff0000"]}},
            "strokeDash": {"field": "s", "type": "nominal", "scale": {"domain": ["o", "n", "w", "a"], "range": [[2, 2.5], [12, 6], [8, 3, 2, 3], [1, 0]]}}
          }
        },
        {
          "title": "Total number of vacancies (level)", "width": 427, "height": 301,
          "data": {"name": "p6"},
          "transform": [{"fold": ["o", "n", "w", "a"], "as": ["s", "v"]}],
          "mark": "line",
          "encoding": {
            "x": {"field": "t", "type": "quantitative", "scale": {"domain": [1995.25, 2012.75], "nice": false, "zero": false}, "axis": {"values": [1996, 2000, 2004, 2008, 2012], "format": "d"}},
            "y": {"field": "v", "type": "quantitative", "scale": {"domain": [0.48, 9.5], "nice": false, "zero": false}, "axis": {"values": [2, 4, 6, 8], "format": "d"}},
            "color": {"field": "s", "type": "nominal", "scale": {"domain": ["o", "n", "w", "a"], "range": ["#000000", "#0000ff", "#ff00ff", "#ff0000"]}},
            "strokeDash": {"field": "s", "type": "nominal", "scale": {"domain": ["o", "n", "w", "a"], "range": [[2, 2.5], [12, 6], [8, 3, 2, 3], [1, 0]]}}
          }
        }
      ]
    },
    {
      "spacing": 37,
      "hconcat": [
        {
          "title": "Hiring rate (at data mean)", "width": 423, "height": 321,
          "data": {"name": "p7"},
          "transform": [{"fold": ["o", "n", "w", "a"], "as": ["s", "v"]}],
          "mark": "line",
          "encoding": {
            "x": {"field": "t", "type": "quantitative", "scale": {"domain": [1995.5, 2012.75], "nice": false, "zero": false}, "axis": {"values": [1996, 2000, 2004, 2008, 2012], "format": "d"}},
            "y": {"field": "v", "type": "quantitative", "scale": {"domain": [-0.0144, 0.1399], "nice": false, "zero": false}, "axis": {"values": [0, 0.05, 0.1], "format": ".2f"}},
            "color": {"field": "s", "type": "nominal", "scale": {"domain": ["o", "n", "w", "a"], "range": ["#000000", "#0000ff", "#ff00ff", "#ff0000"]}},
            "strokeDash": {"field": "s", "type": "nominal", "scale": {"domain": ["o", "n", "w", "a"], "range": [[2, 2.5], [12, 6], [8, 3, 2, 3], [1, 0]]}}
          }
        },
        {
          "title": "Separation rate (at data mean)", "width": 427, "height": 321,
          "data": {"name": "p8"},
          "transform": [{"fold": ["o", "n", "w", "a"], "as": ["s", "v"]}],
          "mark": "line",
          "encoding": {
            "x": {"field": "t", "type": "quantitative", "scale": {"domain": [1995.5, 2012.75], "nice": false, "zero": false}, "axis": {"values": [1996, 2000, 2004, 2008, 2012], "format": "d"}},
            "y": {"field": "v", "type": "quantitative", "scale": {"domain": [0.0208, 0.142], "nice": false, "zero": false}, "axis": {"values": [0.04, 0.06, 0.08, 0.1, 0.12, 0.14], "format": ".2f"}},
            "color": {"field": "s", "type": "nominal", "scale": {"domain": ["o", "n", "w", "a"], "range": ["#000000", "#0000ff", "#ff00ff", "#ff0000"]}},
            "strokeDash": {"field": "s", "type": "nominal", "scale": {"domain": ["o", "n", "w", "a"], "range": [[2, 2.5], [12, 6], [8, 3, 2, 3], [1, 0]]}}
          }
        }
      ]
    }
  ]
}
